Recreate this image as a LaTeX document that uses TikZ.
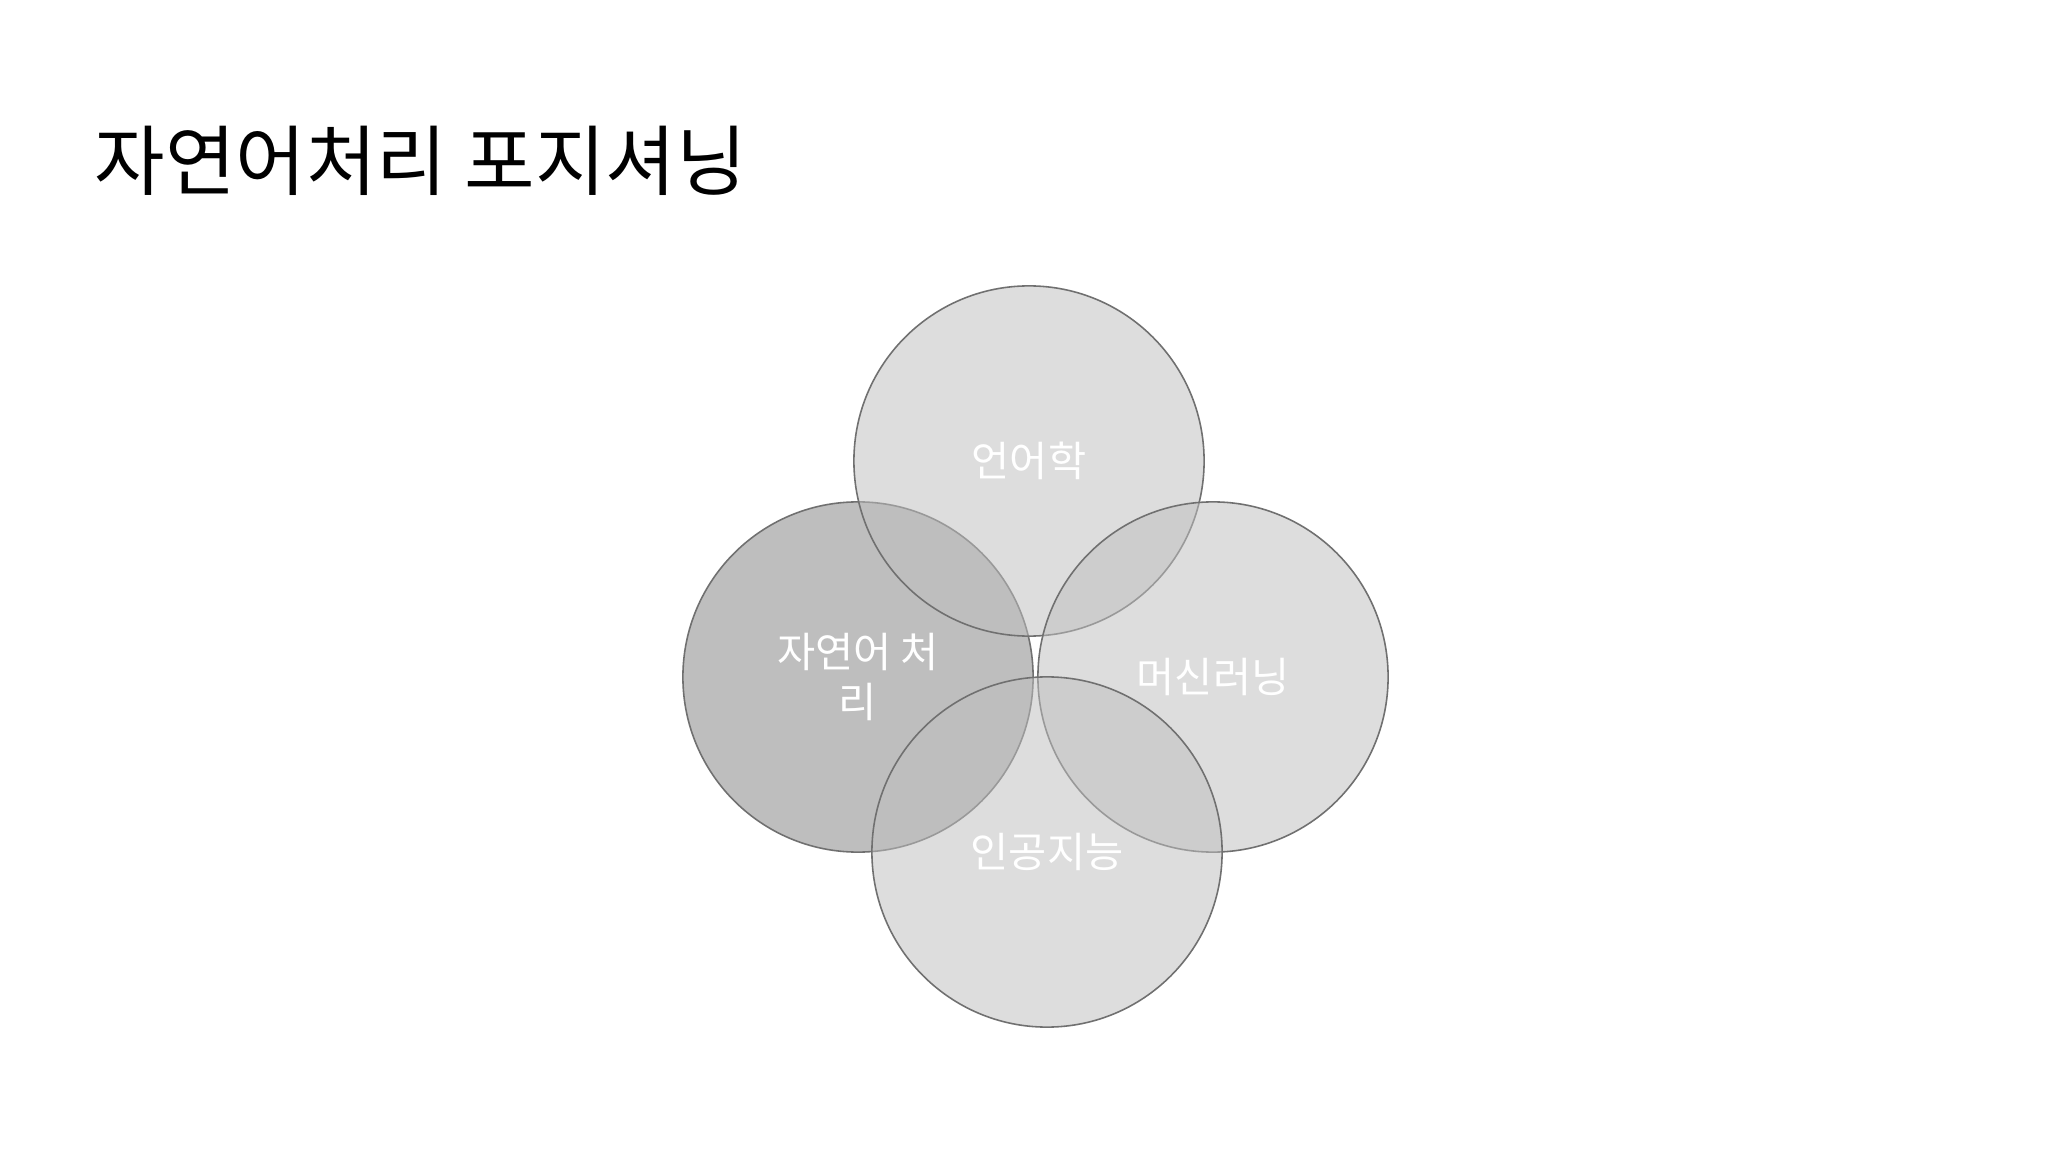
\documentclass[tikz,border=0pt]{standalone}
\usepackage{fontspec}
\setmainfont{Noto Sans CJK KR}
\usepackage{xcolor}
\usepackage{tikz}
\usetikzlibrary{positioning}

\definecolor{ringline}{RGB}{112,112,112}
\definecolor{ringlight}{RGB}{191,191,191}
\definecolor{ringdark}{RGB}{190,190,190}

\tikzset{
	ring/.style={circle, draw=ringline, line width=0.45pt, minimum size=3.5cm, inner sep=0pt,
		fill=#1, text=white, align=center, font=\fontsize{11.8}{14}\selectfont},
	ring/.default=ringlight
}

\begin{document}
\begin{tikzpicture}[x=0.01cm,y=-0.01cm]
	\useasboundingbox[fill=white] (0,0) rectangle (2048,1152);
	\node[anchor=west, inner sep=0pt, font=\fontsize{21.8}{26}\selectfont] (title) at (94,161) {자연어처리 포지셔닝};
	% left circle first, the light ones over it
	\node[ring=ringdark] (nlp) at (858,677) {자연어 처\\리};
	\foreach \name/\x/\y/\label in {
		ling/1029/461/언어학,
		ml/1213/677/머신러닝,
		ai/1047/852/인공지능}
	{
		\node[ring, fill opacity=0.53, text opacity=1] (\name) at (\x,\y) {\label};
	}
\end{tikzpicture}
\end{document}
